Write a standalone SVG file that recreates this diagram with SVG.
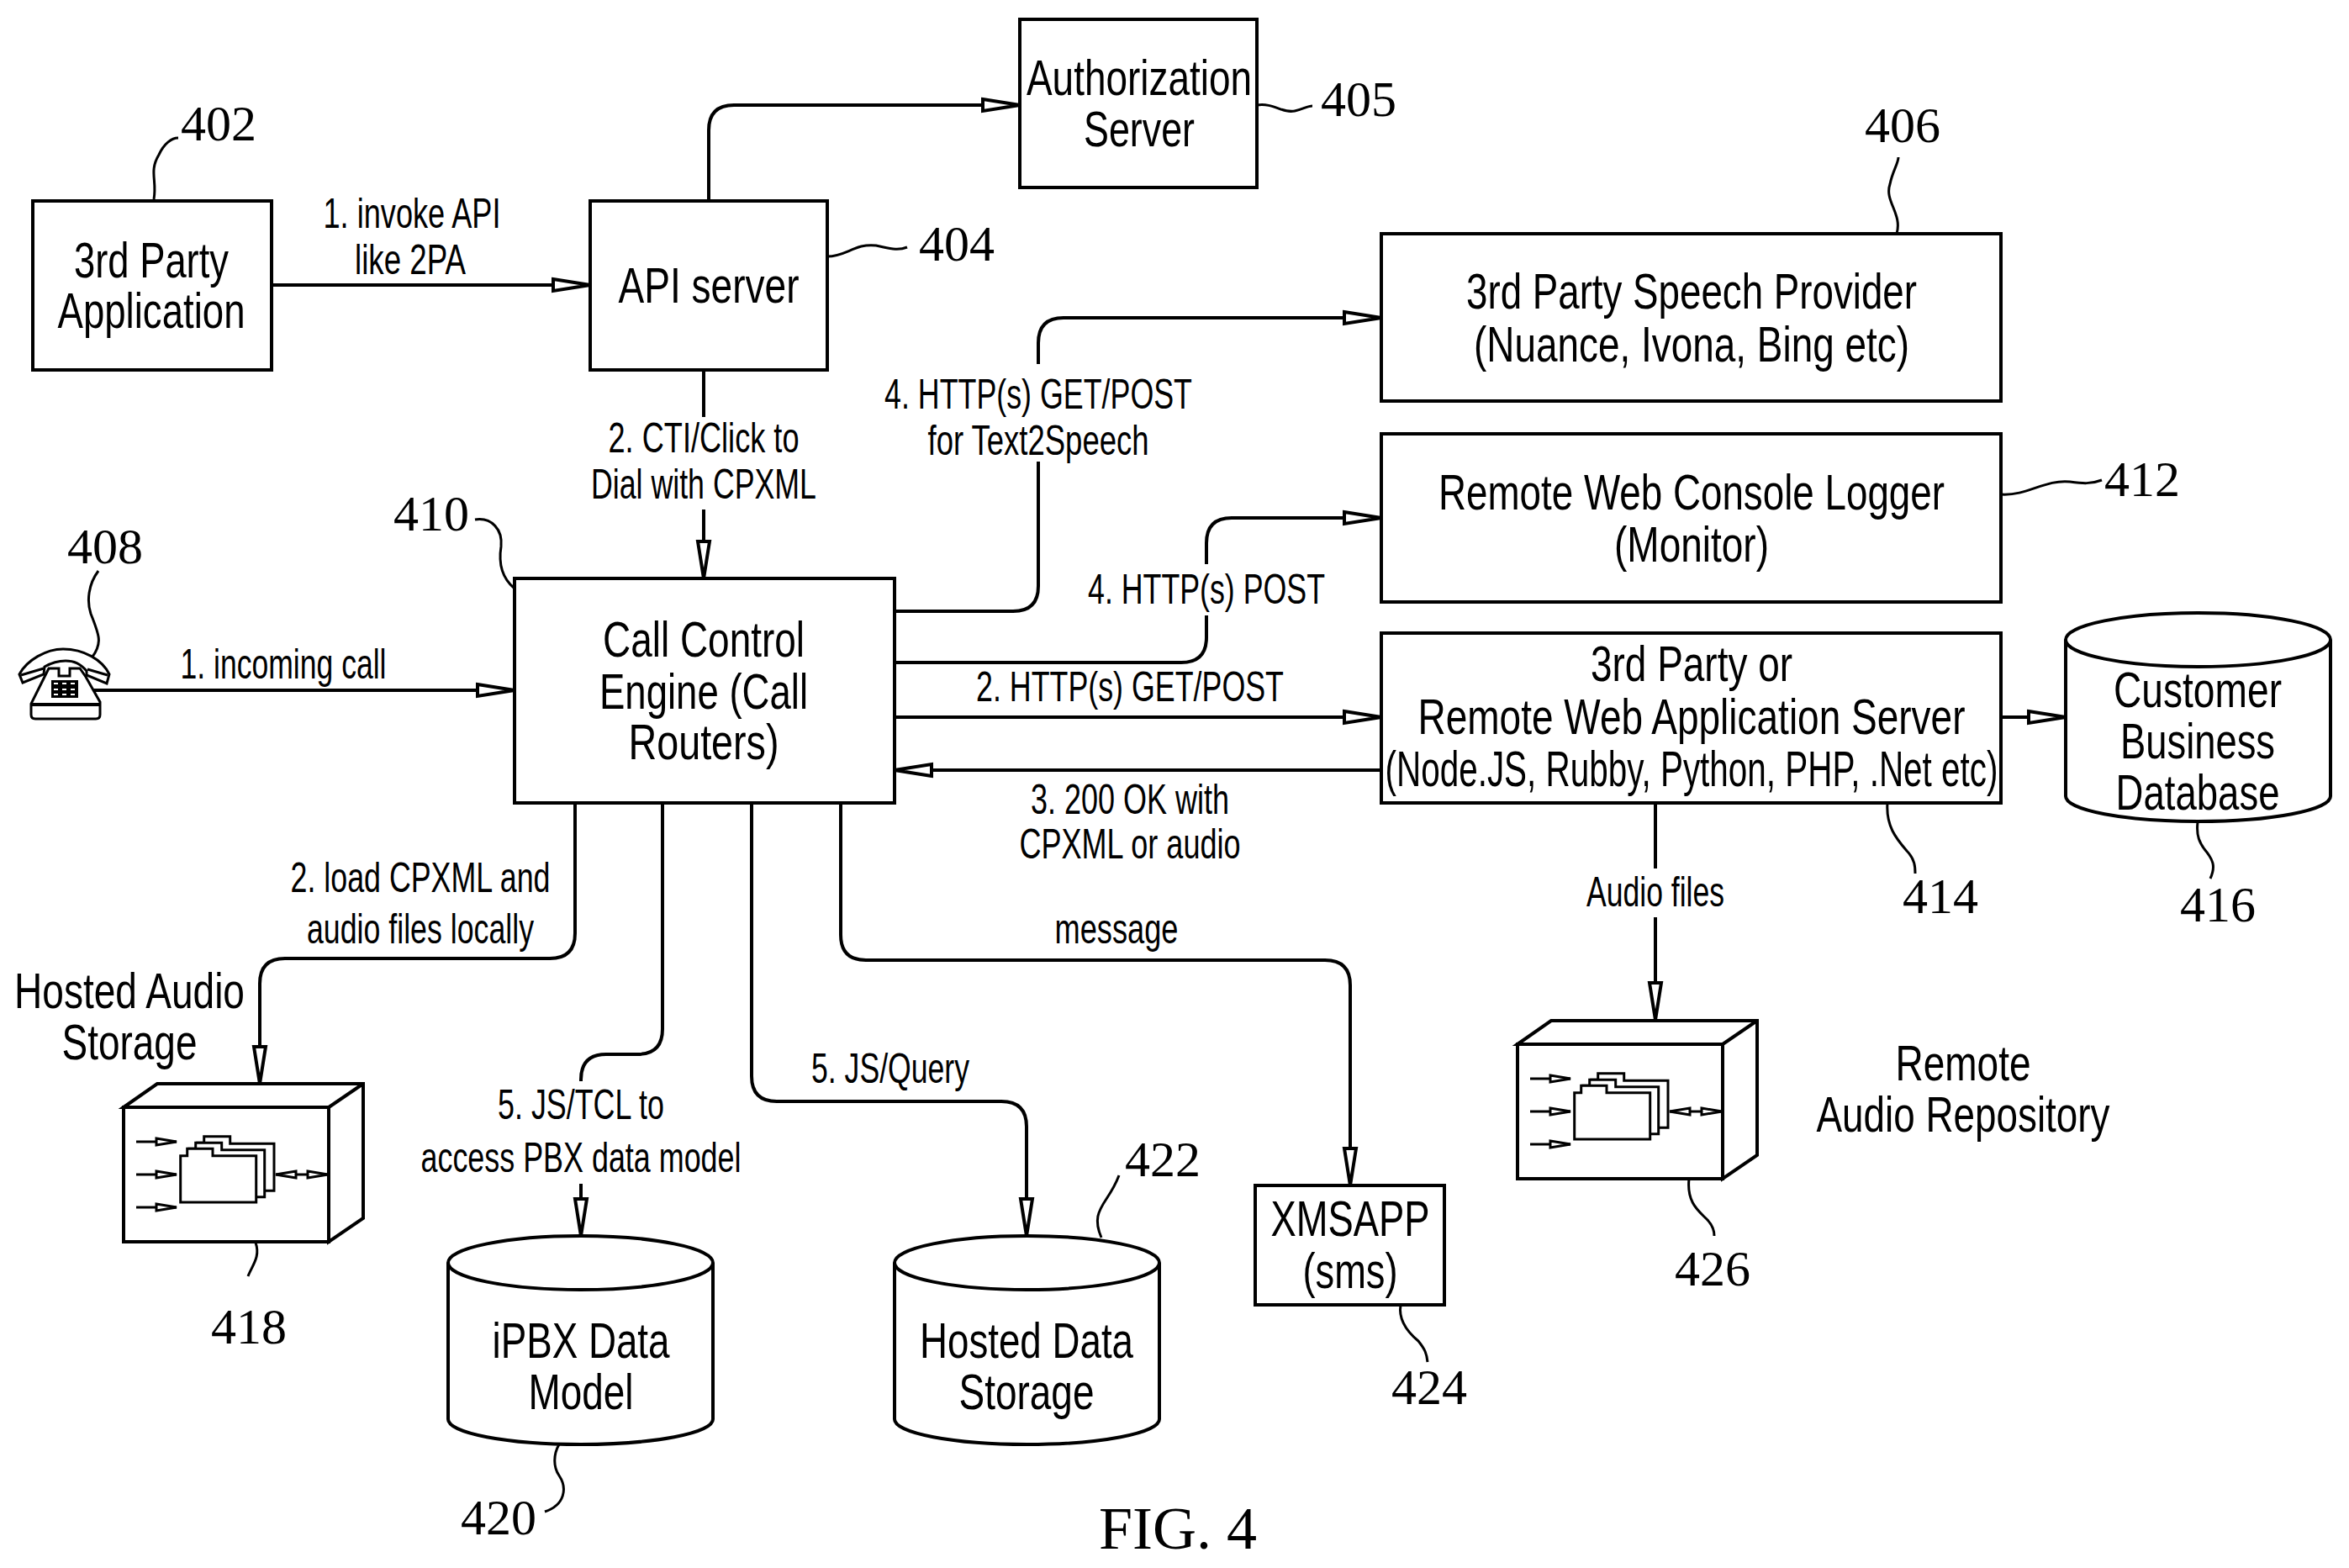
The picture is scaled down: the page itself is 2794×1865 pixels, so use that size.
<svg xmlns="http://www.w3.org/2000/svg" xmlns:xlink="http://www.w3.org/1999/xlink" width="2794" height="1865" viewBox="0 0 2794 1865">
<style>
text{font-family:"Liberation Sans",Arial,sans-serif;fill:#000;text-anchor:middle}
.n{font-size:60px}
.l{font-size:50px}
.r{font-family:"Liberation Serif","Times New Roman",serif;font-size:60px}
.f{font-family:"Liberation Serif","Times New Roman",serif;font-size:72px}
.b{fill:#fff;stroke:#000;stroke-width:4}
.o{fill:none;stroke:#000;stroke-width:4}
.c{fill:none;stroke:#000;stroke-width:4;marker-end:url(#a)}
.k{fill:none;stroke:#000;stroke-width:3}
.i{fill:none;stroke:#000;stroke-width:3;marker-end:url(#s)}
.d{fill:#fff;stroke:#000;stroke-width:3}
</style>
<defs>
<marker id="a" markerUnits="userSpaceOnUse" markerWidth="56" markerHeight="26" viewBox="-50 -13 56 26" refX="0" refY="0" orient="auto"><path d="M-44,-7 L0,0 L-44,7 Z" fill="#fff" stroke="#000" stroke-width="4"/></marker>
<marker id="s" markerUnits="userSpaceOnUse" markerWidth="30" markerHeight="16" viewBox="-27 -8 30 16" refX="0" refY="0" orient="auto"><path d="M-24,-4 L0,0 L-24,4 Z" fill="#fff" stroke="#000" stroke-width="3"/></marker>
<g id="store">
<path class="b" d="M0,0 L40,-28 H285 V132 L244,160 V0 Z"/>
<path class="o" d="M244,0 L285,-28"/>
<rect class="b" x="0" y="0" width="244" height="160"/>
<path class="d" d="M87.700,99.300 V42.300 H95.700 V34.700 H126.700 V43.300 H179 V99.300 Z"/>
<path class="d" d="M77.700,106.700 V49.300 H85.700 V42.300 H116.700 V50.700 H167.700 V106.700 Z"/>
<path class="d" d="M67.700,113 V57.700 H75.700 V49.300 H106 V57.700 H157.700 V113 Z"/>
<path class="i" d="M15,41 H63"/><path class="i" d="M15,80 H63"/><path class="i" d="M15,119 H63"/>
<path class="i" d="M212,80 H181"/><path class="i" d="M212,80 H243"/>
</g>
</defs>
<rect width="2794" height="1865" fill="#fff"/>
<g id="connectors">
<path class="c" d="M323,339 H702"/>
<path class="c" d="M843,239 V155 Q843,125 873,125 H1213"/>
<path class="o" d="M837,440 V496"/><path class="c" d="M837,606 V688"/>
<path class="o" d="M1064,727 H1205 Q1235,727 1235,697 V549"/><path class="c" d="M1235,433 V408 Q1235,378 1265,378 H1643"/>
<path class="o" d="M1064,788 H1405 Q1435,788 1435,758 V732"/><path class="c" d="M1435,671 V646 Q1435,616 1465,616 H1643"/>
<path class="c" d="M1064,853 H1643"/>
<path class="c" d="M1643,916 H1064"/>
<path class="c" d="M2380,853 H2457"/>
<path class="o" d="M1969,955 V1033"/><path class="c" d="M1969,1091 V1213"/>
<path class="c" d="M110,821 H612"/>
<path class="c" d="M684,955 V1110 Q684,1140 654,1140 H339 Q309,1140 309,1170 V1289"/>
<path class="o" d="M788,955 V1224 Q788,1254 758,1254 H721 Q691,1254 691,1284 V1286"/><path class="c" d="M691,1408 V1470"/>
<path class="c" d="M894,955 V1280 Q894,1310 924,1310 H1191 Q1221,1310 1221,1340 V1470"/>
<path class="c" d="M1000,955 V1112 Q1000,1142 1030,1142 H1576 Q1606,1142 1606,1172 V1410"/>
<g id="leaders">
<path class="k" d="M183,237 C187,214 177,204 189,184 C195,171 204,164 212,164"/>
<path class="k" d="M984,305 C1007,305 1017,289 1042,292 C1057,295 1067,299 1079,294"/>
<path class="k" d="M1495,125 C1515,122 1525,135 1540,132 C1550,130 1555,126 1561,126"/>
<path class="k" d="M2256,278 C2263,254 2241,239 2248,219 C2251,204 2258,194 2258,187"/>
<path class="k" d="M2380,588 C2412,590 2432,570 2462,573 C2477,575 2487,576 2500,571"/>
<path class="k" d="M565,618 C585,615 598,630 596,650 C592,675 600,690 612,700"/>
<path class="k" d="M117,679 C105,695 103,715 108,730 C118,755 122,765 110,781"/>
<path class="k" d="M2245,955 C2243,982 2255,997 2268,1012 C2278,1022 2278,1032 2278,1039"/>
<path class="k" d="M2614,978 C2612,995 2617,1003 2622,1010 C2632,1022 2636,1030 2629,1045"/>
<path class="k" d="M304,1478 C310,1495 300,1505 295,1518"/>
<path class="k" d="M665,1718 C658,1730 658,1745 665,1755 C675,1770 672,1790 648,1798"/>
<path class="k" d="M1310,1472 C1301,1451 1306,1441 1316,1426 C1324,1414 1328,1406 1331,1398"/>
<path class="k" d="M1666,1552 C1663,1570 1675,1585 1687,1595 C1695,1605 1697,1610 1698,1620"/>
<path class="k" d="M2009,1402 C2006,1430 2020,1440 2030,1450 C2038,1458 2039,1465 2039,1470"/>
</g>
</g>
<g id="n402"><rect class="b" x="39" y="239" width="284" height="201"/><text class="n" x="180" y="330" textLength="184" lengthAdjust="spacingAndGlyphs">3rd Party</text><text class="n" x="180" y="390" textLength="223" lengthAdjust="spacingAndGlyphs">Application</text></g>
<g id="n404"><rect class="b" x="702" y="239" width="282" height="201"/><text class="n" x="843" y="360" textLength="215" lengthAdjust="spacingAndGlyphs">API server</text></g>
<g id="n405"><rect class="b" x="1213" y="23" width="282" height="200"/><text class="n" x="1355" y="113" textLength="268" lengthAdjust="spacingAndGlyphs">Authorization</text><text class="n" x="1355" y="174" textLength="132" lengthAdjust="spacingAndGlyphs">Server</text></g>
<g id="n406"><rect class="b" x="1643" y="278" width="737" height="199"/><text class="n" x="2012" y="367" textLength="536" lengthAdjust="spacingAndGlyphs">3rd Party Speech Provider</text><text class="n" x="2012" y="430" textLength="518" lengthAdjust="spacingAndGlyphs">(Nuance, Ivona, Bing etc)</text></g>
<g id="n412"><rect class="b" x="1643" y="516" width="737" height="200"/><text class="n" x="2012" y="606" textLength="602" lengthAdjust="spacingAndGlyphs">Remote Web Console Logger</text><text class="n" x="2012" y="668" textLength="184" lengthAdjust="spacingAndGlyphs">(Monitor)</text></g>
<g id="n414"><rect class="b" x="1643" y="753" width="737" height="202"/><text class="n" x="2012" y="810" textLength="240" lengthAdjust="spacingAndGlyphs">3rd Party or</text><text class="n" x="2012" y="873" textLength="651" lengthAdjust="spacingAndGlyphs">Remote Web Application Server</text><text class="n" x="2012" y="935" textLength="729" lengthAdjust="spacingAndGlyphs">(Node.JS, Rubby, Python, PHP, .Net etc)</text></g>
<g id="n410"><rect class="b" x="612" y="688" width="452" height="267"/><text class="n" x="837" y="781" textLength="240" lengthAdjust="spacingAndGlyphs">Call Control</text><text class="n" x="837" y="843" textLength="248" lengthAdjust="spacingAndGlyphs">Engine (Call</text><text class="n" x="837" y="903" textLength="179" lengthAdjust="spacingAndGlyphs">Routers)</text></g>
<g id="n416"><path class="b" d="M2457,761 A157.500,32 0 0 1 2772,761 V947 A157.500,30 0 0 1 2457,947 Z"/><path class="o" d="M2457,761 A157.500,32 0 0 0 2772,761"/><text class="n" x="2614" y="841" textLength="200" lengthAdjust="spacingAndGlyphs">Customer</text><text class="n" x="2614" y="902" textLength="184" lengthAdjust="spacingAndGlyphs">Business</text><text class="n" x="2614" y="963" textLength="195" lengthAdjust="spacingAndGlyphs">Database</text></g>
<g id="n420"><path class="b" d="M533,1502 A157.500,32 0 0 1 848,1502 V1688 A157.500,30 0 0 1 533,1688 Z"/><path class="o" d="M533,1502 A157.500,32 0 0 0 848,1502"/><text class="n" x="691" y="1615" textLength="211" lengthAdjust="spacingAndGlyphs">iPBX Data</text><text class="n" x="691" y="1676" textLength="125" lengthAdjust="spacingAndGlyphs">Model</text></g>
<g id="n422"><path class="b" d="M1064,1502 A157.500,32 0 0 1 1379,1502 V1688 A157.500,30 0 0 1 1064,1688 Z"/><path class="o" d="M1064,1502 A157.500,32 0 0 0 1379,1502"/><text class="n" x="1221" y="1615" textLength="254" lengthAdjust="spacingAndGlyphs">Hosted Data</text><text class="n" x="1221" y="1676" textLength="161" lengthAdjust="spacingAndGlyphs">Storage</text></g>
<g id="n424"><rect class="b" x="1493" y="1410" width="225" height="142"/><text class="n" x="1606" y="1470" textLength="189" lengthAdjust="spacingAndGlyphs">XMSAPP</text><text class="n" x="1606" y="1532" textLength="113" lengthAdjust="spacingAndGlyphs">(sms)</text></g>
<g id="n418"><use xlink:href="#store" href="#store" transform="translate(147,1317)"/><text class="n" x="154" y="1199" textLength="274" lengthAdjust="spacingAndGlyphs">Hosted Audio</text><text class="n" x="154" y="1260" textLength="161" lengthAdjust="spacingAndGlyphs">Storage</text></g>
<g id="n426"><use xlink:href="#store" href="#store" transform="translate(1805,1242)"/><text class="n" x="2335" y="1285" textLength="161" lengthAdjust="spacingAndGlyphs">Remote</text><text class="n" x="2335" y="1346" textLength="349" lengthAdjust="spacingAndGlyphs">Audio Repository</text></g>
<g id="n408">
<path class="d" d="M53,805 L37,837 V850 Q37,855 42,855 H114 Q119,855 119,850 V835 L102,805 L95,795 H83 V804 H70 V795 H58 Z"/>
<path class="o" d="M37,838 H119" stroke-width="3"/>
<path class="d" d="M23,802 C32,785 55,772 75,772 C100,772 122,785 130,802 L127,813 L103,803 L103,798 C95,789 88,786 78,786 C68,786 60,789 53,793 L52,802 L27,812 Z"/>
<path class="k" d="M25,803 L52,795 M128,803 L104,796"/>
<rect x="61" y="809" width="32" height="21" fill="#000"/>
<path d="M64,813 H69 M74,813 H79 M84,813 H89 M64,820 H69 M74,820 H79 M84,820 H89 M64,826 H69 M74,826 H79 M84,826 H89" fill="none" stroke="#fff" stroke-width="2"/>
</g>
<g id="labels">
<text class="l" x="490" y="271" textLength="211" lengthAdjust="spacingAndGlyphs">1. invoke API</text>
<text class="l" x="488" y="326" textLength="132" lengthAdjust="spacingAndGlyphs">like 2PA</text>
<text class="l" x="1235" y="486" textLength="366" lengthAdjust="spacingAndGlyphs">4. HTTP(s) GET/POST</text>
<text class="l" x="1235" y="541" textLength="263" lengthAdjust="spacingAndGlyphs">for Text2Speech</text>
<text class="l" x="837" y="538" textLength="227" lengthAdjust="spacingAndGlyphs">2. CTI/Click to</text>
<text class="l" x="837" y="593" textLength="268" lengthAdjust="spacingAndGlyphs">Dial with CPXML</text>
<text class="l" x="1435" y="718" textLength="282" lengthAdjust="spacingAndGlyphs">4. HTTP(s) POST</text>
<text class="l" x="1344" y="834" textLength="366" lengthAdjust="spacingAndGlyphs">2. HTTP(s) GET/POST</text>
<text class="l" x="1344" y="968" textLength="236" lengthAdjust="spacingAndGlyphs">3. 200 OK with</text>
<text class="l" x="1344" y="1021" textLength="263" lengthAdjust="spacingAndGlyphs">CPXML or audio</text>
<text class="l" x="337" y="807" textLength="245" lengthAdjust="spacingAndGlyphs">1. incoming call</text>
<text class="l" x="500" y="1061" textLength="309" lengthAdjust="spacingAndGlyphs">2. load CPXML and</text>
<text class="l" x="500" y="1122" textLength="270" lengthAdjust="spacingAndGlyphs">audio files locally</text>
<text class="l" x="691" y="1331" textLength="198" lengthAdjust="spacingAndGlyphs">5. JS/TCL to</text>
<text class="l" x="691" y="1394" textLength="381" lengthAdjust="spacingAndGlyphs">access PBX data model</text>
<text class="l" x="1059" y="1288" textLength="188" lengthAdjust="spacingAndGlyphs">5. JS/Query</text>
<text class="l" x="1328" y="1122" textLength="147" lengthAdjust="spacingAndGlyphs">message</text>
<text class="l" x="1969" y="1078" textLength="164" lengthAdjust="spacingAndGlyphs">Audio files</text>
<text class="r" x="260" y="167">402</text>
<text class="r" x="1138" y="310">404</text>
<text class="r" x="1616" y="138">405</text>
<text class="r" x="2263" y="169">406</text>
<text class="r" x="2548" y="590">412</text>
<text class="r" x="513" y="631">410</text>
<text class="r" x="125" y="670">408</text>
<text class="r" x="2308" y="1086">414</text>
<text class="r" x="2638" y="1096">416</text>
<text class="r" x="296" y="1598">418</text>
<text class="r" x="593" y="1825">420</text>
<text class="r" x="1383" y="1399">422</text>
<text class="r" x="1700" y="1670">424</text>
<text class="r" x="2037" y="1529">426</text>
<text class="f" x="1401" y="1842">FIG. 4</text>
</g>
</svg>
